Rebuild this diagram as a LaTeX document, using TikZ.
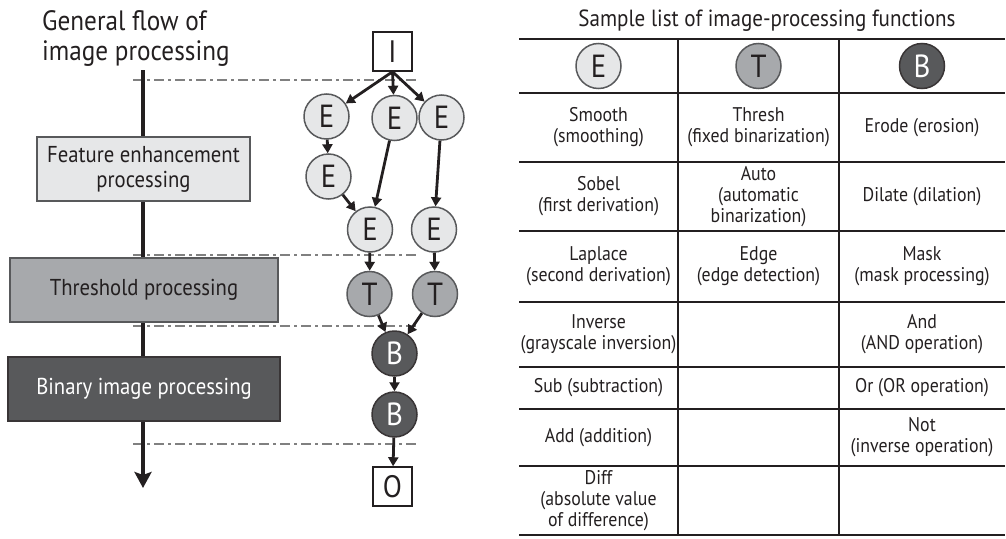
\documentclass[tikz,border=0pt]{standalone}
\usepackage{fontspec}
\setmainfont{PT Sans}[FakeStretch=0.9]
\usetikzlibrary{arrows.meta}

\definecolor{enhgray}{HTML}{E6E7E8}
\definecolor{thrgray}{HTML}{A7A9AC}
\definecolor{bingray}{HTML}{58595B}
\definecolor{ink}{HTML}{231F20}

\tikzset{
  fn/.style={circle, draw=bingray, line width=1.5pt, minimum size=45pt, inner sep=0pt,
    font=\fontsize{32}{32}\selectfont, text=ink},
  efn/.style={fn, fill=enhgray},
  tfn/.style={fn, fill=thrgray},
  bfn/.style={fn, fill=bingray, draw=ink!90, text=white},
  io/.style={draw=ink, line width=1.5pt, fill=white, minimum size=39pt, inner sep=0pt,
    font=\fontsize{31}{31}\selectfont, text=ink},
  stage/.style={draw=bingray, line width=1.2pt, align=center, inner sep=0pt,
    font=\fontsize{23}{25}\selectfont, text=ink},
  flow/.style={ink, line width=2.8pt, -{Triangle[length=9pt,width=10pt]}},
  sep/.style={gray, line width=1.8pt, dash pattern=on 10pt off 4pt on 3pt off 4pt},
  rule/.style={ink, line width=1.8pt},
  cell/.style={align=center, font=\fontsize{19.8}{21}\selectfont, text=ink},
}

\begin{document}
\begin{tikzpicture}[x=1pt, y=-1pt]
  \useasboundingbox (0,0) rectangle (1006,538);

  % General flow
  \node[anchor=north west, inner sep=0pt, align=left, text=ink,
    font=\fontsize{28}{30}\selectfont] (title) at (42,10) {General flow of\\image processing};

  \draw[sep] (133,80) -- (417,80);
  \draw[sep] (133,255) -- (417,255);
  \draw[sep] (133,326) -- (417,326);
  \draw[sep] (133,444) -- (417,444);

  \coordinate (start) at (143,70);
  \coordinate (end) at (143,488);
  \draw[ink, line width=4pt, -{Stealth[length=16pt,width=17pt,inset=3pt]}] (start) -- (end);

  \node[stage, fill=enhgray, minimum width=213pt, minimum height=64pt] (enhance) at (143.5,169)
    {Feature enhancement\\processing};
  \node[stage, fill=thrgray, minimum width=268pt, minimum height=64pt] (thresh) at (144,290)
    {Threshold processing};
  \node[stage, fill=bingray, draw=ink!90, text=white, minimum width=272pt, minimum height=64pt]
    (binary) at (144,389) {Binary image processing};

  % Processing graph
  \node[io] (in) at (392.5,51.5) {I};
  \node[efn] (e1) at (326.5,116.5) {E};
  \node[efn] (e2) at (394.5,118) {E};
  \node[efn] (e3) at (441.5,117.5) {E};
  \node[efn] (e4) at (328.5,176.5) {E};
  \node[efn] (e5) at (370,229.5) {E};
  \node[efn] (e6) at (434,229.5) {E};
  \node[tfn] (t1) at (369.5,294) {T};
  \node[tfn] (t2) at (435,294) {T};
  \node[bfn] (b1) at (394.5,353.5) {B};
  \node[bfn] (b2) at (394.5,414.5) {B};
  \node[io] (out) at (392.5,486.5) {O};

  \draw[flow] (in.south) -- (e1);
  \draw[flow] (in.south) -- (e2);
  \draw[flow] (in.south) -- (e3);
  \draw[flow] (e1) -- (e4);
  \draw[flow] (e4) -- (e5);
  \draw[flow] (e2) -- (e5);
  \draw[flow] (e3) -- (e6);
  \draw[flow] (e5) -- (t1);
  \draw[flow] (e6) -- (t2);
  \draw[flow] (t1) -- (b1);
  \draw[flow] (t2) -- (b1);
  \draw[flow] (b1) -- (b2);
  \draw[flow] (b2) -- (out);

  % Function list
  \node[font=\fontsize{23.4}{25}\selectfont, text=ink] (listtitle) at (767,21)
    {Sample list of image-processing functions};
  \foreach \y in {39,93,162,231,302,367,409,466,535}
    \draw[rule] (519,\y) -- (1005,\y);
  \foreach \x in {678,839}
    \draw[rule] (\x,39) -- (\x,535);

  \node[efn] (hE) at (598.5,66) {E};
  \node[tfn] (hT) at (758.5,66) {T};
  \node[bfn] (hB) at (922,66) {B};

  \node[cell] (smooth) at (598.5,127.5) {Smooth\\(smoothing)};
  \node[cell] (threshfn) at (758.5,127.5) {Thresh\\(fixed binarization)};
  \node[cell] (erode) at (922,127.5) {Erode (erosion)};

  \node[cell] (sobel) at (598.5,196.5) {Sobel\\(first derivation)};
  \node[cell] (auto) at (758.5,196.5) {Auto\\(automatic\\binarization)};
  \node[cell] (dilate) at (922,196.5) {Dilate (dilation)};

  \node[cell] (laplace) at (598.5,266.5) {Laplace\\(second derivation)};
  \node[cell] (edge) at (758.5,266.5) {Edge\\(edge detection)};
  \node[cell] (mask) at (922,266.5) {Mask\\(mask processing)};

  \node[cell] (inverse) at (598.5,334.5) {Inverse\\(grayscale inversion)};
  \node[cell] (and) at (922,334.5) {And\\(AND operation)};

  \node[cell] (sub) at (598.5,388) {Sub (subtraction)};
  \node[cell] (or) at (922,388) {Or (OR operation)};

  \node[cell] (add) at (598.5,437.5) {Add (addition)};
  \node[cell] (not) at (922,437.5) {Not\\(inverse operation)};

  \node[cell] (diff) at (598.5,500.5) {Diff\\(absolute value\\of difference)};
\end{tikzpicture}
\end{document}
